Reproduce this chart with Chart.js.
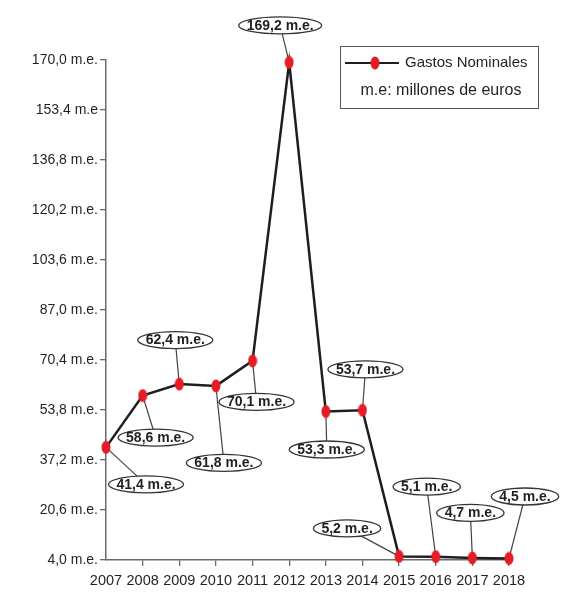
<!DOCTYPE html>
<html>
<head>
<meta charset="utf-8">
<script src="https://cdn.jsdelivr.net/npm/chart.js@4.4.1/dist/chart.umd.min.js"></script>
<style>
  html, body { margin: 0; padding: 0; background: #ffffff; }
  canvas { display: block; }
</style>
</head>
<body>
<canvas id="chart" width="563" height="592"></canvas>
<script>
// Gastos nominales por año, en millones de euros
const years = ['2007', '2008', '2009', '2010', '2011', '2012', '2013', '2014', '2015', '2016', '2017', '2018'];
const gastos = [41.4, 58.6, 62.4, 61.8, 70.1, 169.2, 53.3, 53.7, 5.2, 5.1, 4.7, 4.5];
const yTickValues = [4.0, 20.6, 37.2, 53.8, 70.4, 87.0, 103.6, 120.2, 136.8, 153.4, 170.0];
const yTickLabels = ['4,0 m.e.', '20,6 m.e.', '37,2 m.e.', '53,8 m.e.', '70,4 m.e.', '87,0 m.e.',
                     '103,6 m.e.', '120,2 m.e.', '136,8 m.e.', '153,4 m.e', '170,0 m.e.'];
const seriesName = 'Gastos Nominales';
const unitNote = 'm.e: millones de euros';

// Where each value bubble sits relative to its point (pixels)
const calloutOffsets = [
  [40, 37], [13, 42], [-4, -44], [8, 77], [4, 41], [-9, -37],
  [1, 38], [3, -41], [-52, -28], [-9, -70], [-2, -45], [16, -62]
];

const TICK_FONT = '"Liberation Sans", Arial, sans-serif';
const LABEL_FONT = '"Liberation Sans", Arial, sans-serif';
const INK = '#231f20';
const AXIS = '#6b6b6b';
const RED = '#e31e24';

function formatValue(v) {
  return v.toFixed(1).replace('.', ',') + ' m.e.';
}

// Small upright red ellipse used as the point marker
function makeDot() {
  const c = document.createElement('canvas');
  c.width = 10; c.height = 14;
  const g = c.getContext('2d');
  g.fillStyle = RED;
  g.beginPath();
  g.ellipse(5, 7, 4.5, 6.5, 0, 0, Math.PI * 2);
  g.fill();
  return c;
}
const dot = makeDot();

// Leader lines go under the markers, bubbles go on top
const callouts = {
  id: 'callouts',
  beforeDatasetsDraw(chart) {
    const ctx = chart.ctx;
    const meta = chart.getDatasetMeta(0);
    ctx.save();
    ctx.strokeStyle = '#444';
    ctx.lineWidth = 1.2;
    meta.data.forEach((pt, i) => {
      const [dx, dy] = calloutOffsets[i];
      ctx.beginPath();
      ctx.moveTo(pt.x, pt.y);
      ctx.lineTo(pt.x + dx, pt.y + dy);
      ctx.stroke();
    });
    ctx.restore();
  },
  afterDatasetsDraw(chart) {
    const ctx = chart.ctx;
    const meta = chart.getDatasetMeta(0);
    ctx.save();
    ctx.font = 'bold 14px ' + LABEL_FONT;
    ctx.textAlign = 'center';
    ctx.textBaseline = 'middle';
    meta.data.forEach((pt, i) => {
      const [dx, dy] = calloutOffsets[i];
      const cx = pt.x + dx, cy = pt.y + dy;
      const text = formatValue(gastos[i]);
      const w = ctx.measureText(text).width + 16;
      ctx.beginPath();
      ctx.ellipse(cx, cy, w / 2, 8.5, 0, 0, Math.PI * 2);
      ctx.fillStyle = '#ffffff';
      ctx.fill();
      ctx.strokeStyle = '#333';
      ctx.lineWidth = 1.3;
      ctx.stroke();
      ctx.fillStyle = INK;
      ctx.fillText(text, cx, cy + 0.5);
    });
    ctx.restore();
  }
};

// Boxed legend in the upper right
const legendBox = {
  id: 'legendBox',
  afterDraw(chart) {
    const ctx = chart.ctx;
    ctx.save();
    ctx.strokeStyle = '#555';
    ctx.lineWidth = 1;
    ctx.strokeRect(340.5, 46.5, 198, 62);
    ctx.strokeStyle = '#1e1e1e';
    ctx.lineWidth = 2;
    ctx.beginPath();
    ctx.moveTo(345, 63);
    ctx.lineTo(399, 63);
    ctx.stroke();
    ctx.drawImage(dot, 375 - 5, 63 - 7);
    ctx.fillStyle = INK;
    ctx.font = '15px ' + TICK_FONT;
    ctx.textBaseline = 'middle';
    ctx.textAlign = 'left';
    ctx.fillText(seriesName, 405, 63);
    ctx.font = '16px ' + TICK_FONT;
    ctx.textAlign = 'center';
    ctx.fillText(unitNote, 441, 91);
    ctx.restore();
  }
};

new Chart(document.getElementById('chart'), {
  type: 'line',
  data: {
    labels: years,
    datasets: [{
      label: seriesName,
      data: gastos,
      borderColor: '#1e1e1e',
      borderWidth: 2.5,
      tension: 0,
      pointStyle: dot,
      pointRadius: 6,
      pointHoverRadius: 6,
      clip: false
    }]
  },
  options: {
    responsive: false,
    animation: false,
    devicePixelRatio: 1,
    layout: { padding: { left: 0, right: 54, top: 60, bottom: 0 } },
    plugins: {
      legend: { display: false },
      tooltip: { enabled: false }
    },
    scales: {
      x: {
        type: 'category',
        offset: false,
        afterFit(s) { s.height = 32; },
        border: { display: true, color: AXIS, width: 1.5 },
        grid: {
          drawOnChartArea: false,
          tickLength: 6,
          color: (c) => c.index === 0 ? 'rgba(0,0,0,0)' : AXIS,
          lineWidth: 1.3
        },
        ticks: {
          color: INK,
          font: { family: TICK_FONT, size: 14.5 },
          padding: 6,
          maxRotation: 0,
          autoSkip: false
        }
      },
      y: {
        min: 4,
        max: 170,
        afterFit(s) { s.width = 106; },
        afterBuildTicks(s) { s.ticks = yTickValues.map(v => ({ value: v })); },
        border: { display: true, color: AXIS, width: 1.5 },
        grid: {
          drawOnChartArea: false,
          tickLength: 6,
          color: AXIS,
          lineWidth: 1.3
        },
        ticks: {
          color: INK,
          font: { family: TICK_FONT, size: 14 },
          padding: 2,
          callback: (v, i) => yTickLabels[i]
        }
      }
    }
  },
  plugins: [callouts, legendBox]
});
</script>
</body>
</html>
